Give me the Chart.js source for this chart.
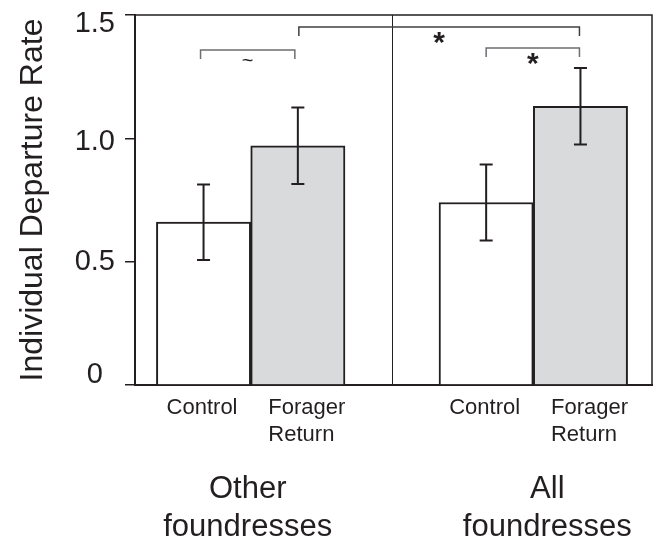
<!DOCTYPE html>
<html>
<head>
<meta charset="utf-8">
<title>Individual Departure Rate</title>
<script src="https://cdn.jsdelivr.net/npm/chart.js@4.4.1/dist/chart.umd.min.js"></script>
<style>
	body { margin: 0; background: #fff; }
	#wrap { width: 653px; height: 540px; }
</style>
</head>
<body>
<div id="wrap"><canvas id="departChart" width="653" height="540"></canvas></div>
<script>
// values
var groups = ["Other foundresses", "All foundresses"];
var conditions = ["Control", "Forager Return"];
var controlMeans = [0.66, 0.74];
var controlErr = [0.153, 0.154];
var foragerMeans = [0.97, 1.13];
var foragerErr = [0.155, 0.155];
var yTicks = [0, 0.5, 1.0, 1.5];
var yTickLabels = ["0", "0.5", "1.0", "1.5"];
var sigLabels = ["~", "*", "*"];

var ink = "#231f20";
var fontFam = "'Liberation Sans', Arial, Helvetica, sans-serif";

function points(means) {
	return means.map(function (v, i) {
		return { x: i, y: v };
	});
}

// error bars, frame, brackets and all the loose text
var extras = {
	id: "extras",
	afterDatasetsDraw: function (chart) {
		var ctx = chart.ctx;
		var area = chart.chartArea;
		var xs = chart.scales.x;
		var ys = chart.scales.y;
		var ctrl = chart.getDatasetMeta(0).data;
		var forg = chart.getDatasetMeta(1).data;

		ctx.save();
		ctx.strokeStyle = ink;

		// box top / right and the divider between groups
		ctx.lineWidth = 1.5;
		ctx.beginPath();
		ctx.moveTo(area.left, area.top);
		ctx.lineTo(area.right, area.top);
		ctx.lineTo(area.right, area.bottom);
		ctx.stroke();
		var mid = Math.round(xs.getPixelForValue(0.5)) + 0.5;
		ctx.lineWidth = 1;
		ctx.beginPath();
		ctx.moveTo(mid, area.top);
		ctx.lineTo(mid, area.bottom);
		ctx.stroke();

		// error bars
		ctx.lineWidth = 2;
		function errBar(el, m, e) {
			var t = ys.getPixelForValue(m + e);
			var b = ys.getPixelForValue(m - e);
			ctx.beginPath();
			ctx.moveTo(el.x, t);
			ctx.lineTo(el.x, b);
			ctx.moveTo(el.x - 6.5, t);
			ctx.lineTo(el.x + 6.5, t);
			ctx.moveTo(el.x - 6.5, b);
			ctx.lineTo(el.x + 6.5, b);
			ctx.stroke();
		}
		for (var i = 0; i < groups.length; i++) {
			errBar(ctrl[i], controlMeans[i], controlErr[i]);
			errBar(forg[i], foragerMeans[i], foragerErr[i]);
		}

		// significance brackets
		var brackets = [
			{ x1: ctrl[0].x - 3, x2: forg[0].x - 3, y: 50, color: "#6d6e71" },
			{ x1: forg[0].x + 1, x2: forg[1].x - 1, y: 27, color: "#404041" },
			{ x1: ctrl[1].x, x2: forg[1].x - 1, y: 48, color: "#6d6e71" }
		];
		ctx.lineWidth = 1.5;
		brackets.forEach(function (b, k) {
			ctx.strokeStyle = b.color;
			ctx.beginPath();
			ctx.moveTo(b.x1, b.y + 9);
			ctx.lineTo(b.x1, b.y);
			ctx.lineTo(b.x2, b.y);
			ctx.lineTo(b.x2, b.y + 9);
			ctx.stroke();
			ctx.fillStyle = ink;
			ctx.textAlign = "center";
			ctx.textBaseline = "alphabetic";
			if (sigLabels[k] == "~") {
				ctx.font = "20px " + fontFam;
				ctx.fillText(sigLabels[k], (b.x1 + b.x2) / 2, b.y + 17);
			} else {
				ctx.font = "bold 30px " + fontFam;
				ctx.fillText(sigLabels[k], (b.x1 + b.x2) / 2, b.y + 25);
			}
		});

		// y tick labels (the original sits them a bit unevenly)
		var nudge = [
			{ dy: -2, right: 103 },
			{ dy: 8.5, right: 115 },
			{ dy: 11.5, right: 115 },
			{ dy: 16.5, right: 115 }
		];
		ctx.fillStyle = ink;
		ctx.font = "29px " + fontFam;
		ctx.textAlign = "right";
		ctx.textBaseline = "alphabetic";
		yTicks.forEach(function (v, k) {
			ctx.fillText(yTickLabels[k], nudge[k].right, ys.getPixelForValue(v) + nudge[k].dy);
		});

		// condition labels under each bar
		ctx.font = "22px " + fontFam;
		for (var j = 0; j < groups.length; j++) {
			ctx.textAlign = "center";
			ctx.fillText(conditions[0], ctrl[j].x - 1.5, 414);
			ctx.textAlign = "left";
			var parts = conditions[1].split(" ");
			ctx.fillText(parts[0], forg[j].x - 29.5, 414);
			ctx.fillText(parts[1], forg[j].x - 29.5, 441);
		}

		// group labels
		var shift = [-3, 14];
		ctx.font = "31px " + fontFam;
		ctx.textAlign = "center";
		groups.forEach(function (g, k) {
			var cx = xs.getPixelForValue(k) + shift[k];
			var w = g.split(" ");
			ctx.fillText(w[0], cx, 498);
			ctx.fillText(w[1], cx, 536);
		});
		ctx.restore();
	}
};

var chart = new Chart(document.getElementById("departChart"), {
	type: "bar",
	data: {
		datasets: [
			{
				label: conditions[0],
				data: points(controlMeans),
				backgroundColor: "#ffffff",
				borderColor: ink,
				borderWidth: 2,
				barThickness: 94.3
			},
			{
				label: conditions[1],
				data: points(foragerMeans),
				backgroundColor: "#d9dadb",
				borderColor: ink,
				borderWidth: 2,
				barThickness: 94.3
			}
		]
	},
	options: {
		responsive: false,
		animation: false,
		layout: { padding: { top: 15, right: 1, left: 0, bottom: 0 } },
		plugins: {
			legend: { display: false },
			tooltip: { enabled: false }
		},
		scales: {
			x: {
				type: "linear",
				offset: false,
				min: -0.4094,
				max: 1.42,
				grid: { display: false },
				border: { display: true, color: ink, width: 2 },
				ticks: { display: false },
				afterFit: function (s) {
					s.height = 155;
					s.paddingLeft = 0;
					s.paddingRight = 0;
				}
			},
			y: {
				min: 0,
				max: 1.5,
				border: { display: true, color: ink, width: 2 },
				grid: {
					display: true,
					drawOnChartArea: false,
					drawTicks: true,
					tickLength: 10,
					color: ink,
					lineWidth: 1.5
				},
				afterBuildTicks: function (s) {
					s.ticks = yTicks.map(function (v) {
						return { value: v };
					});
				},
				ticks: { display: false },
				title: {
					display: true,
					text: "Individual Departure Rate",
					color: ink,
					padding: { top: 14, bottom: 0 },
					font: { family: fontFam, size: 32 }
				},
				afterFit: function (s) {
					s.width = 135;
					s.paddingTop = 0;
					s.paddingBottom = 0;
				}
			}
		}
	},
	plugins: [extras]
});
</script>
</body>
</html>
